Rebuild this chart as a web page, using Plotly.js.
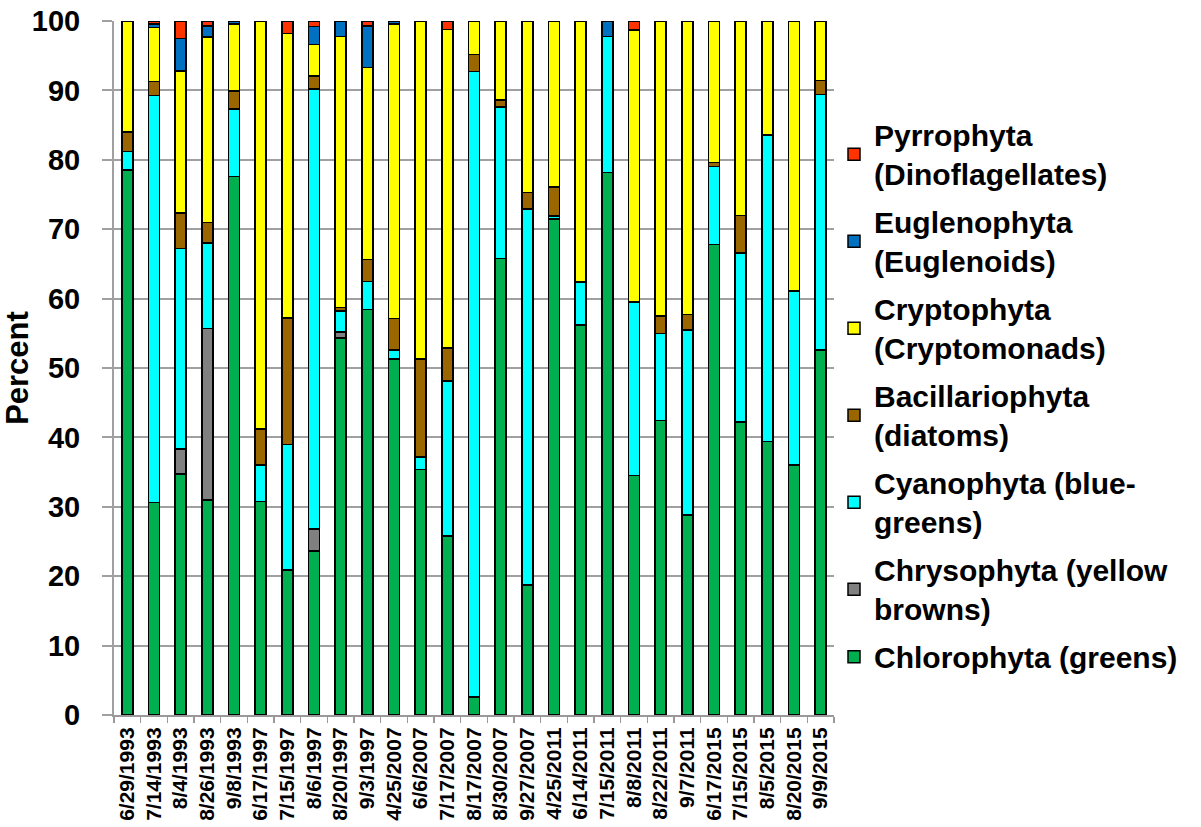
<!DOCTYPE html>
<html>
<head>
<meta charset="utf-8">
<script src="https://cdn.plot.ly/plotly-3.0.1.min.js"></script>
<style>html,body{margin:0;padding:0;background:#fff;}#chart{width:1201px;height:827px;}</style>
</head>
<body>
<div id="chart"></div>
<script>
var dates = ["6/29/1993","7/14/1993","8/4/1993","8/26/1993","9/8/1993","6/17/1997","7/15/1997","8/6/1997","8/20/1997","9/3/1997","4/25/2007","6/6/2007","7/17/2007","8/17/2007","8/30/2007","9/27/2007","4/25/2011","6/14/2011","7/15/2011","8/8/2011","8/22/2011","9/7/2011","6/17/2015","7/15/2015","8/5/2015","8/20/2015","9/9/2015"];

var chlorophyta     = [78.5,30.6,34.7,31.0,77.6,30.8,20.9,23.6,54.3,58.4,51.3,35.4,25.8,2.6,65.8,18.7,71.5,56.2,78.2,34.5,42.4,28.8,67.8,42.2,39.4,36.0,52.6];
var chrysophyta     = [0,0,3.6,24.7,0,0,0,3.2,0.9,0,0,0,0,0,0,0,0,0,0,0,0,0,0,0,0,0,0];
var cyanophyta      = [2.7,58.7,28.9,12.3,9.7,5.2,18.1,63.4,3.0,4.1,1.3,1.8,22.3,90.1,21.8,54.2,0.4,6.2,19.6,25.0,12.6,26.7,11.2,24.4,44.2,25.1,36.8];
var bacillariophyta = [2.8,2.0,5.1,3.0,2.6,5.2,18.2,1.9,0.5,3.1,4.5,14.1,4.8,2.5,1.0,2.4,4.2,0,0,0,2.5,2.2,0.6,5.4,0,0,2.0];
var cryptophyta     = [16.0,7.8,20.5,26.7,9.7,58.8,41.0,4.5,39.1,27.7,42.5,48.7,45.9,4.8,11.4,24.7,23.9,37.6,0,39.2,42.5,42.3,20.4,28.0,16.4,38.9,8.6];
var euglenophyta    = [0,0.5,4.7,1.6,0.4,0,0,2.6,2.2,6.0,0.4,0,0,0,0,0,0,0,2.2,0,0,0,0,0,0,0,0];
var pyrrophyta      = [0,0.4,2.5,0.7,0,0,1.8,0.8,0,0.7,0,0,1.2,0,0,0,0,0,0,1.3,0,0,0,0,0,0,0];

var seriesNames = ["Chlorophyta (greens)","Chrysophyta (yellow<br>browns)","Cyanophyta (blue-<br>greens)","Bacillariophyta<br>(diatoms)","Cryptophyta<br>(Cryptomonads)","Euglenophyta<br>(Euglenoids)","Pyrrophyta<br>(Dinoflagellates)"];
var seriesValues = [chlorophyta, chrysophyta, cyanophyta, bacillariophyta, cryptophyta, euglenophyta, pyrrophyta];
var seriesColors = ["#00B050","#808080","#00FFFF","#996600","#FFFF00","#0070C0","#FF3300"];

var traces = seriesValues.map(function(v, i){
  return {
    type: 'bar',
    x: dates,
    y: v,
    name: seriesNames[i],
    legendgroup: 'g' + i,
    legendrank: (seriesValues.length - i) * 10,
    marker: {color: seriesColors[i], line: {color: '#000000', width: 1.5}}
  };
});

var fontFam = 'Liberation Sans, Arial, sans-serif';
var layout = {
  width: 1201, height: 827,
  barmode: 'stack',
  bargap: 0.59,
  paper_bgcolor: '#ffffff',
  plot_bgcolor: '#ffffff',
  margin: {l: 114, r: 367, t: 21, b: 112},
  font: {family: fontFam, color: '#000000'},
  xaxis: {
    type: 'category',
    tickangle: -90,
    tickfont: {family: fontFam, size: 21, weight: 'bold', color: '#000'},
    showgrid: false,
    showline: true, linecolor: '#999999', linewidth: 2,
    ticks: 'outside', tickson: 'boundaries', ticklen: 6, tickcolor: '#999999', tickwidth: 1.5,
    ticklabelstandoff: 2
  },
  yaxis: {
    range: [0, 100], dtick: 10, tick0: 0,
    tickfont: {family: fontFam, size: 29, weight: 'bold', color: '#000'},
    showgrid: true, gridcolor: '#a0a0a0', gridwidth: 2,
    showline: true, linecolor: '#a0a0a0', linewidth: 2,
    ticks: 'outside', ticklen: 10, tickcolor: '#a0a0a0', tickwidth: 2,
    ticklabelstandoff: 16,
    zeroline: false,
    title: {text: 'Percent', font: {family: fontFam, size: 31, weight: 'bold', color: '#000'}, standoff: 14}
  },
  legend: {
    x: 1.0, xanchor: 'left', y: 0.46, yanchor: 'middle',
    traceorder: 'grouped',
    tracegroupgap: 6,
    font: {family: fontFam, size: 30, weight: 'bold', color: '#000'},
    bgcolor: 'rgba(0,0,0,0)'
  },
  showlegend: true
};

Plotly.newPlot('chart', traces, layout, {displayModeBar: false, staticPlot: true});
</script>
</body>
</html>
